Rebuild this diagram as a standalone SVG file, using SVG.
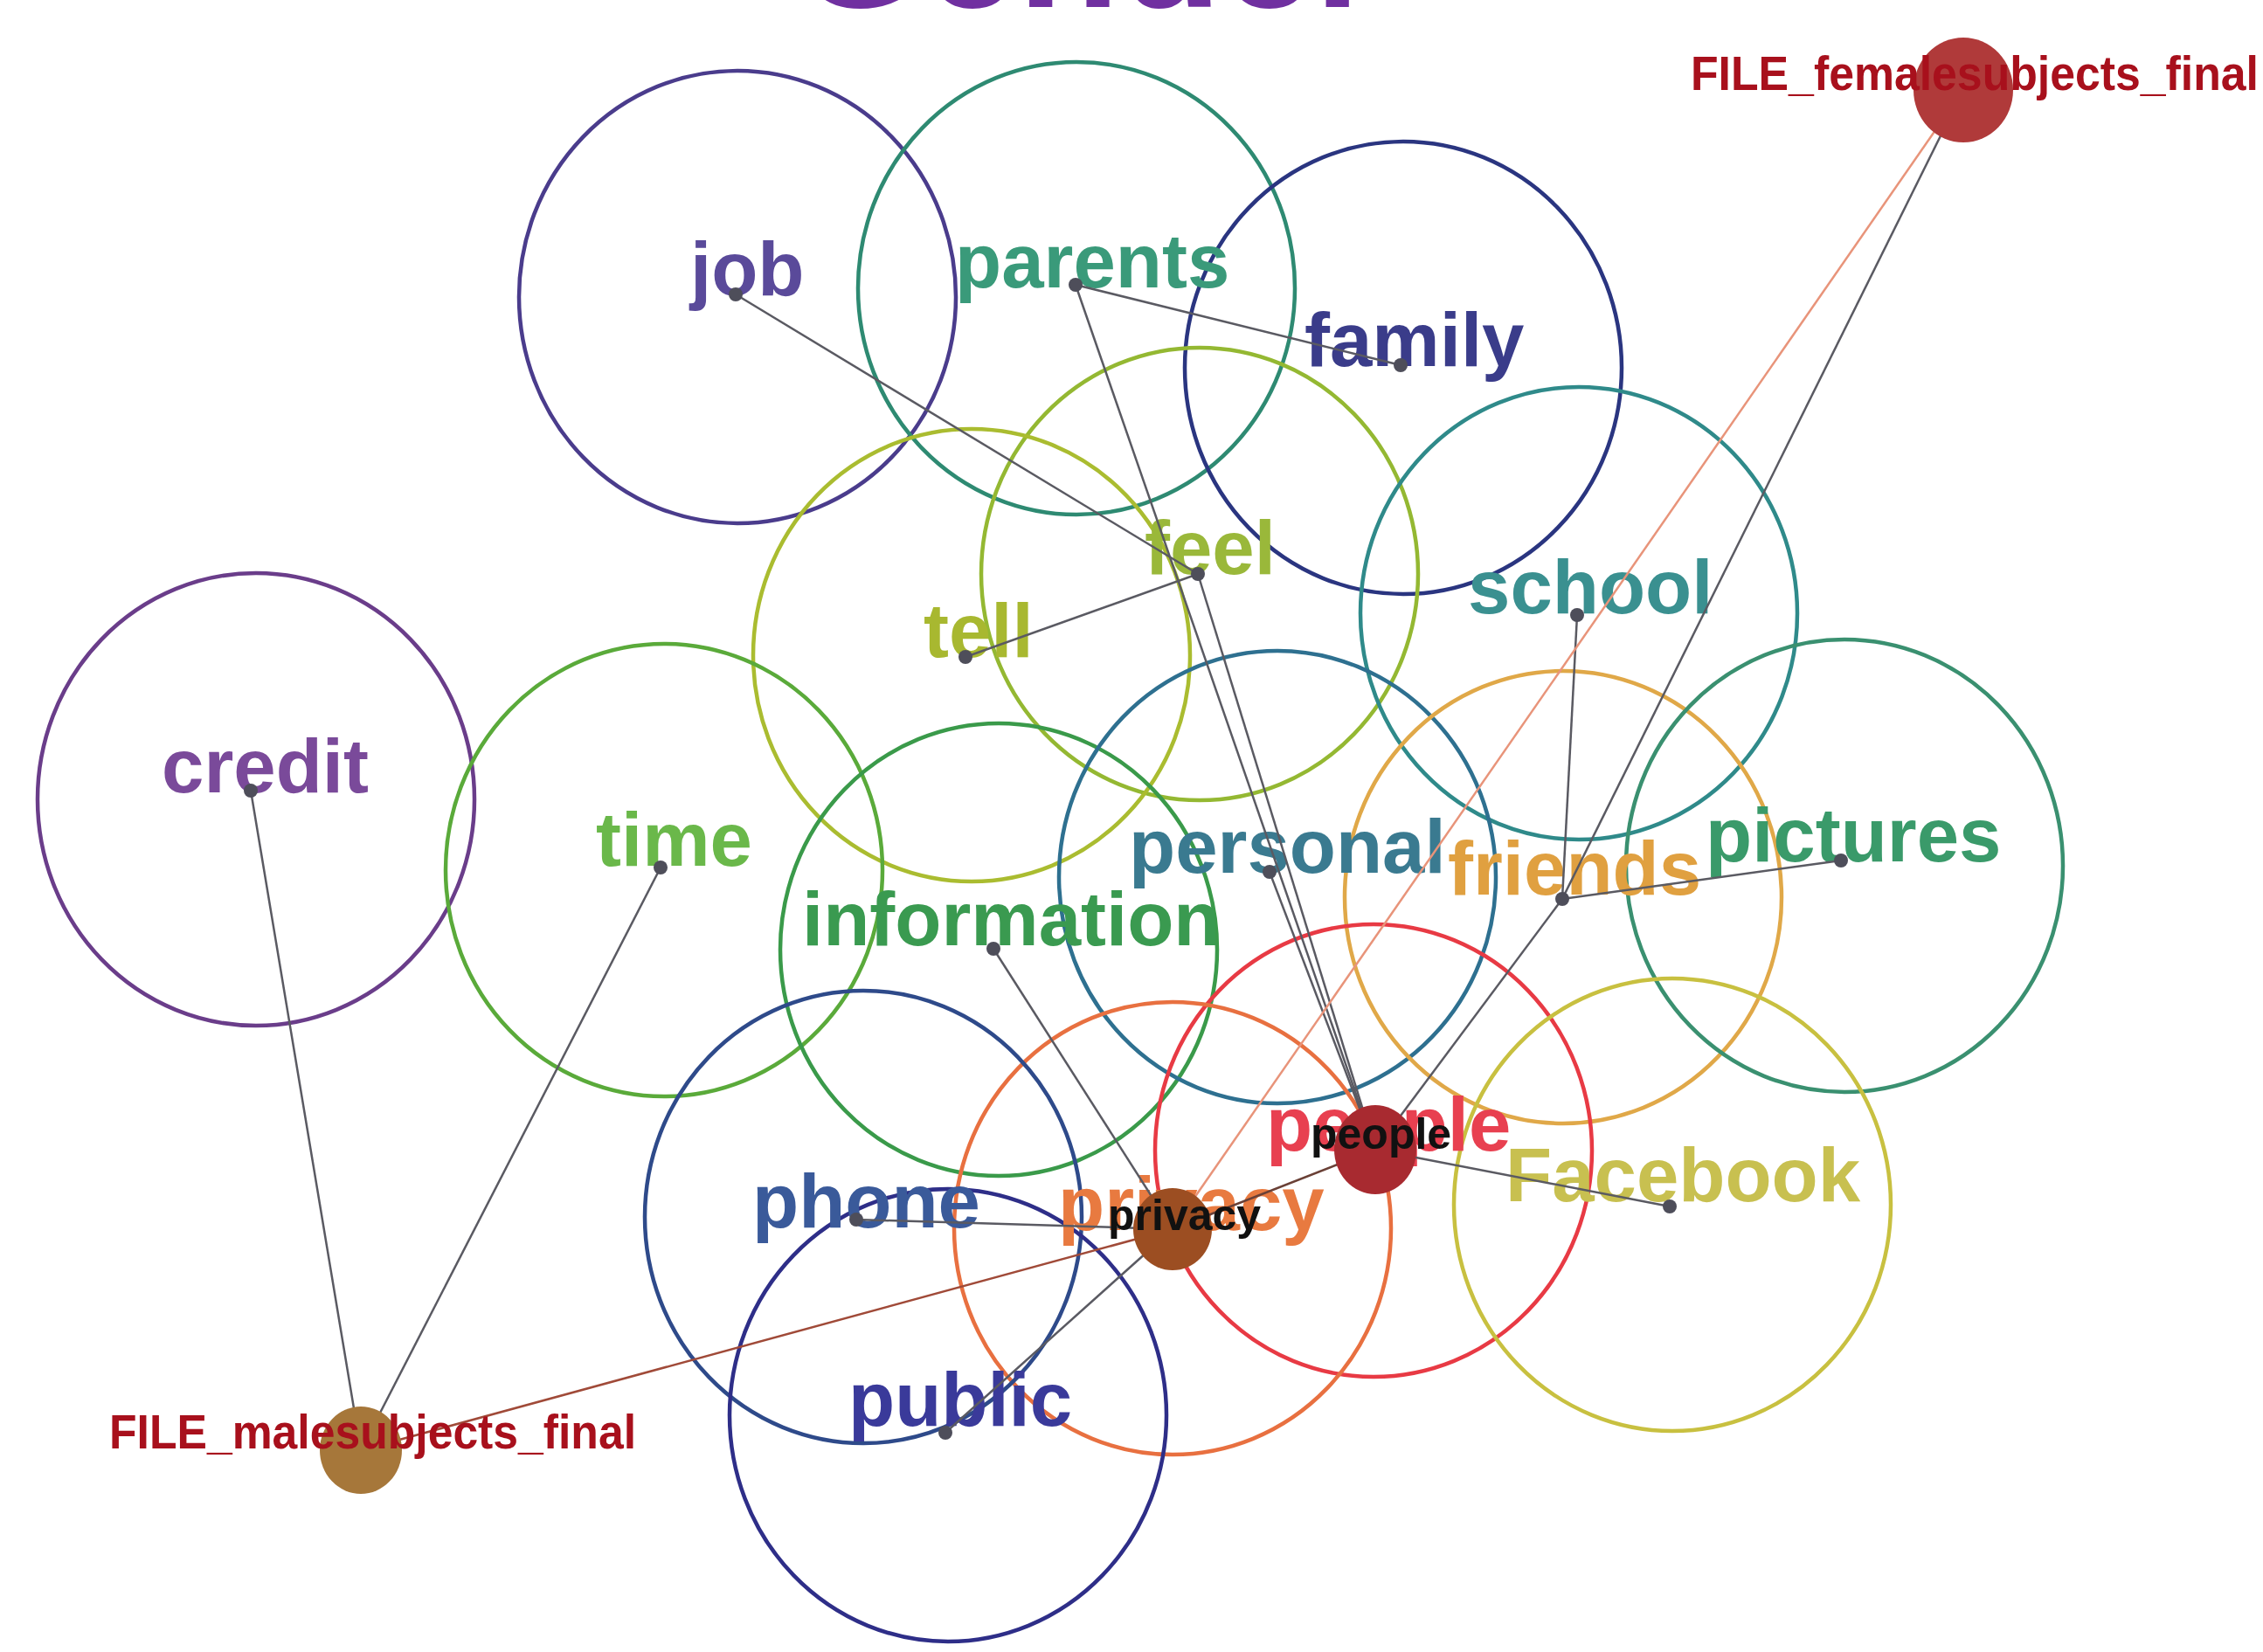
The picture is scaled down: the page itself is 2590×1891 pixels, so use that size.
<svg xmlns="http://www.w3.org/2000/svg" width="2590" height="1891" viewBox="0 0 2590 1891">
  <style>
    .ring { fill: none; stroke-width: 4.5; }
    .word { font-family: "Liberation Sans", Arial, sans-serif; font-weight: bold; font-size: 87px; }
    .small { font-family: "Liberation Sans", Arial, sans-serif; font-weight: bold; font-size: 50px; fill: #111; }
    .file { font-family: "Liberation Sans", Arial, sans-serif; font-weight: bold; font-size: 55px; fill: #a8101c; }
    .edge { stroke: #5a5a62; stroke-width: 2.5; fill: none; }
    .edge.warm { stroke: #e8947a; }
    .edge.rust { stroke: #a04a38; }
    .edge.umber { stroke: #6a4036; }
    .dot { fill: #4e4e5a; }
  </style>
  <rect width="2590" height="1891" fill="#ffffff"/>

  <!-- heading, mostly above the top edge -->
  <text x="910" y="8" font-family="'Liberation Sans', Arial, sans-serif" font-weight="bold" font-size="191" fill="#7030a0">Gender</text>

  <!-- word rings -->
  <g id="rings">
    <ellipse id="ring-job" class="ring" cx="844" cy="340" rx="250" ry="259" stroke="#4a3c8c"/>
    <ellipse id="ring-parents" class="ring" cx="1232" cy="330" rx="250" ry="259" stroke="#2e8a72"/>
    <ellipse id="ring-family" class="ring" cx="1606" cy="421" rx="250" ry="259" stroke="#2a3580"/>
    <ellipse id="ring-feel" class="ring" cx="1373" cy="657" rx="250" ry="259" stroke="#94b832"/>
    <ellipse id="ring-tell" class="ring" cx="1112" cy="750" rx="250" ry="259" stroke="#aabc30"/>
    <ellipse id="ring-school" class="ring" cx="1807" cy="702" rx="250" ry="259" stroke="#2f8a8a"/>
    <ellipse id="ring-credit" class="ring" cx="293" cy="915" rx="250" ry="259" stroke="#6a3d8a"/>
    <ellipse id="ring-time" class="ring" cx="760" cy="996" rx="250" ry="259" stroke="#5aaa3a"/>
    <ellipse id="ring-information" class="ring" cx="1143" cy="1087" rx="250" ry="259" stroke="#3a9a4a"/>
    <ellipse id="ring-personal" class="ring" cx="1462" cy="1004" rx="250" ry="259" stroke="#2e7090"/>
    <ellipse id="ring-friends" class="ring" cx="1789" cy="1027" rx="250" ry="259" stroke="#e0a848"/>
    <ellipse id="ring-pictures" class="ring" cx="2111" cy="991" rx="250" ry="259" stroke="#3a9070"/>
    <ellipse id="ring-people" class="ring" cx="1572" cy="1317" rx="250" ry="259" stroke="#e83a44"/>
    <ellipse id="ring-facebook" class="ring" cx="1914" cy="1379" rx="250" ry="259" stroke="#c8c040"/>
    <ellipse id="ring-privacy" class="ring" cx="1342" cy="1406" rx="250" ry="259" stroke="#e87040"/>
    <ellipse id="ring-phone" class="ring" cx="988" cy="1393" rx="250" ry="259" stroke="#2e4a8a"/>
    <ellipse id="ring-public" class="ring" cx="1085" cy="1620" rx="250" ry="259" stroke="#2e2e88"/>
  </g>

  <!-- word labels -->
  <g id="words">
    <text id="t-job" class="word" x="790" y="338" fill="#5a4a9a">job</text>
    <text id="t-parents" class="word" x="1093" y="329" fill="#3a9a7a">parents</text>
    <text id="t-family" class="word" x="1493" y="419" fill="#3a3c8a">family</text>
    <text id="t-feel" class="word" x="1310" y="657" fill="#9ab83a">feel</text>
    <text id="t-tell" class="word" x="1057" y="752" fill="#a8b830">tell</text>
    <text id="t-school" class="word" x="1680" y="702" fill="#3a9090">school</text>
    <text id="t-credit" class="word" x="185" y="907" fill="#7a4a9a">credit</text>
    <text id="t-time" class="word" x="682" y="991" fill="#6ab84a">time</text>
    <text id="t-information" class="word" x="918" y="1082" fill="#3a9a50">information</text>
    <text id="t-personal" class="word" x="1292" y="999" fill="#3a7a90">personal</text>
    <text id="t-friends" class="word" x="1657" y="1024" fill="#e0a040">friends</text>
    <text id="t-pictures" class="word" x="1952" y="986" fill="#3a9a6a">pictures</text>
    <text id="t-people" class="word" x="1449" y="1317" fill="#e84050">people</text>
    <text id="t-facebook" class="word" x="1723" y="1375" fill="#c8c050">Facebook</text>
    <text id="t-privacy" class="word" x="1211" y="1408" fill="#e87a40">privacy</text>
    <text id="t-phone" class="word" x="861" y="1405" fill="#3a5a9a">phone</text>
    <text id="t-public" class="word" x="971" y="1632" fill="#3a3a9a">public</text>
  </g>

  <!-- connectors -->
  <g id="connectors">
    <line class="edge" x1="842" y1="337" x2="1371" y2="657"/>
    <line class="edge" x1="1231" y1="326" x2="1603" y2="418"/>
    <line class="edge" x1="1231" y1="326" x2="1574" y2="1316"/>
    <line class="edge" x1="1105" y1="752" x2="1371" y2="657"/>
    <line class="edge" x1="1371" y1="657" x2="1574" y2="1316"/>
    <line class="edge" x1="1805" y1="704" x2="1788" y2="1029"/>
    <line class="edge" x1="1788" y1="1029" x2="2107" y2="985"/>
    <line class="edge" x1="1453" y1="998" x2="1574" y2="1316"/>
    <line class="edge" x1="1137" y1="1086" x2="1342" y2="1407"/>
    <line class="edge" x1="1574" y1="1316" x2="1911" y2="1381"/>
    <line class="edge umber" x1="1342" y1="1407" x2="1574" y2="1316"/>
    <line class="edge" x1="980" y1="1396" x2="1342" y2="1407"/>
    <line class="edge" x1="1082" y1="1640" x2="1342" y2="1407"/>
    <line class="edge" x1="287" y1="905" x2="413" y2="1660"/>
    <line class="edge" x1="756" y1="993" x2="413" y2="1660"/>
    <line class="edge rust" x1="413" y1="1660" x2="1342" y2="1407"/>
    <line class="edge warm" x1="2247" y1="103" x2="1342" y2="1407"/>
    <line class="edge" x1="2247" y1="103" x2="1788" y2="1029"/>
    <line class="edge" x1="1788" y1="1029" x2="1574" y2="1316"/>
  </g>

  <!-- word nodes -->
  <g id="node-job"><circle class="dot" cx="842" cy="337" r="8"/></g>
  <g id="node-parents"><circle class="dot" cx="1231" cy="326" r="8"/></g>
  <g id="node-family"><circle class="dot" cx="1603" cy="418" r="8"/></g>
  <g id="node-feel"><circle class="dot" cx="1371" cy="657" r="8"/></g>
  <g id="node-tell"><circle class="dot" cx="1105" cy="752" r="8"/></g>
  <g id="node-school"><circle class="dot" cx="1805" cy="704" r="8"/></g>
  <g id="node-credit"><circle class="dot" cx="287" cy="905" r="8"/></g>
  <g id="node-time"><circle class="dot" cx="756" cy="993" r="8"/></g>
  <g id="node-information"><circle class="dot" cx="1137" cy="1086" r="8"/></g>
  <g id="node-personal"><circle class="dot" cx="1453" cy="998" r="8"/></g>
  <g id="node-friends"><circle class="dot" cx="1788" cy="1029" r="8"/></g>
  <g id="node-pictures"><circle class="dot" cx="2107" cy="985" r="8"/></g>
  <g id="node-facebook"><circle class="dot" cx="1911" cy="1381" r="8"/></g>
  <g id="node-phone"><circle class="dot" cx="980" cy="1396" r="8"/></g>
  <g id="node-public"><circle class="dot" cx="1082" cy="1640" r="8"/></g>

  <!-- hub nodes -->
  <g id="node-people">
    <ellipse cx="1574" cy="1316" rx="47" ry="51" fill="#a82a30"/>
    <text class="small" x="1500" y="1315">people</text>
  </g>
  <g id="node-privacy">
    <ellipse cx="1342" cy="1407" rx="45" ry="47" fill="#9c4e22"/>
    <text class="small" x="1268" y="1408">privacy</text>
  </g>
  <g id="node-male">
    <ellipse cx="413" cy="1660" rx="47" ry="50" fill="#a6773a"/>
    <text class="file" x="125" y="1658" textLength="603" lengthAdjust="spacingAndGlyphs">FILE_malesubjects_final</text>
  </g>
  <g id="node-female">
    <ellipse cx="2247" cy="103" rx="57" ry="60" fill="#b03a3a"/>
    <text class="file" x="1935" y="103" textLength="650" lengthAdjust="spacingAndGlyphs">FILE_femalesubjects_final</text>
  </g>
</svg>
